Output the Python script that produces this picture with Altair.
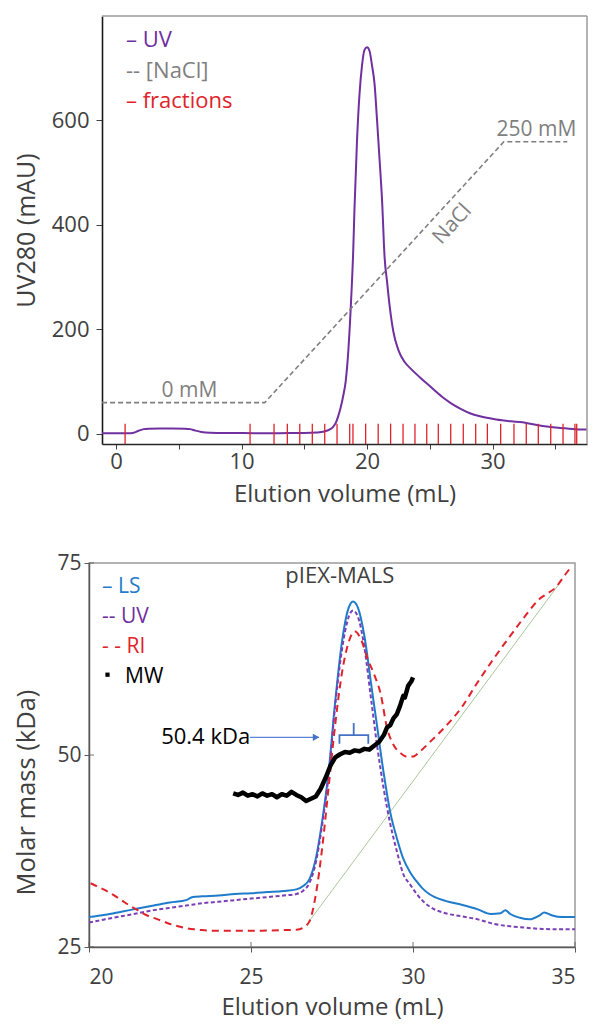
import altair as alt
import pandas as pd

FONT = "Open Sans"
PURPLE = "#7030A0"
GRAY = "#7F7F7F"
RED = "#E0232B"
BLUE = "#1F7CCB"
TXT = "#404040"
FRAME = "#9a9a9a"

# ---------------- top panel (ion exchange) ----------------
uv_vol = [-1.12, 0.0, 1.0, 1.4, 1.8, 2.2, 2.6, 3.5, 4.5, 5.5, 5.9, 6.3, 6.8, 7.5, 9.0,
          11.0, 13.0, 15.0, 16.0, 16.6, 17.0, 17.3, 17.5, 17.7, 17.9, 18.1, 18.3, 18.5,
          18.7, 18.9, 19.0, 19.2, 19.4, 19.6, 19.8, 20.0, 20.2, 20.4, 20.6, 20.8, 21.0,
          21.2, 21.4, 21.6, 21.8, 22.1, 22.5, 23.0, 23.5, 24.2, 25.0, 26.0, 26.7, 27.5,
          28.2, 29.0, 30.3, 31.5, 32.4, 33.1, 34.0, 35.0, 35.8, 37.0, 37.53]
uv_mau = [0.5, 0.5, 0.5, 1.5, 5.5, 8.5, 9.2, 9.5, 9.5, 9.2, 8.5, 5.8, 3.0, 1.5, 1.0,
          0.8, 0.8, 1.0, 2.0, 4.0, 7.5, 13, 20, 33, 50, 72, 100, 155,
          240, 350, 430, 560, 650, 705, 735, 740, 733, 705, 670, 600, 525,
          446, 338, 290, 245, 195, 160, 137, 124, 108, 91, 70, 58, 47,
          39, 33, 27, 23.5, 21.5, 18.5, 14.5, 11.5, 10, 8, 7.6]

nacl_vol = [-1.12, 11.85, 30.9, 35.96]
nacl_mm = [0, 0, 250, 250]

frac_vol = [0.72, 10.68, 12.59, 13.65, 14.64, 15.64, 16.63, 17.61, 18.62, 18.88, 19.89,
            20.89, 21.88, 22.87, 23.82, 24.76, 25.68, 26.67, 27.67, 28.66, 29.59, 30.65,
            31.71, 32.69, 33.65, 34.64, 35.62, 36.57, 36.71]

top_legend = ["\u2013 UV", "-- [NaCl]", "\u2013 fractions"]
top_legend_colors = [PURPLE, GRAY, RED]

# ---------------- bottom panel (MALS) ----------------
ls_vol = [20.0, 20.5, 21.0, 21.5, 22.0, 22.5, 23.0, 23.2, 23.5, 24.0, 24.5, 25.0, 25.5, 26.0,
          26.4, 26.6, 26.8, 27.0, 27.2, 27.4, 27.6, 27.8, 28.0, 28.15, 28.3, 28.5, 28.7,
          28.9, 29.1, 29.3, 29.5, 29.7, 29.9, 30.1, 30.3, 30.5, 31.0, 31.5, 32.0, 32.4,
          32.7, 32.85, 33.0, 33.3, 33.6, 33.9, 34.05, 34.3, 34.6, 35.0]
ls_kda = [28.9, 29.2, 29.6, 30.0, 30.4, 30.8, 31.1, 31.5, 31.6, 31.7, 31.9, 32.0, 32.15, 32.3,
          32.5, 32.9, 33.8, 36.5, 41.5, 48.0, 57.0, 64.5, 69.0, 70.0, 69.2, 65.5, 59.5,
          53.5, 47.5, 42.5, 39.2, 36.5, 34.8, 33.6, 32.6, 31.9, 31.0, 30.5, 29.9, 29.3,
          29.4, 29.8, 29.3, 28.8, 28.6, 29.1, 29.5, 29.1, 28.9, 28.9]

uvm_vol = [20.0, 20.5, 21.0, 21.5, 22.0, 22.5, 23.0, 23.5, 24.0, 24.5, 25.0, 25.5, 26.0, 26.4,
           26.6, 26.8, 27.0, 27.2, 27.4, 27.6, 27.8, 28.0, 28.15, 28.3, 28.5, 28.7, 28.9,
           29.1, 29.3, 29.5, 29.7, 29.9, 30.1, 30.3, 30.5, 31.0, 31.5, 32.0, 32.5, 33.0,
           33.5, 34.0, 34.5, 35.0]
uvm_kda = [28.2, 28.6, 29.0, 29.4, 29.8, 30.1, 30.4, 30.7, 30.9, 31.1, 31.3, 31.5, 31.7, 31.9,
           32.3, 33.3, 36.0, 41.0, 47.5, 56.5, 63.5, 67.8, 68.8, 68.0, 64.0, 57.5, 51.0,
           45.5, 41.0, 37.5, 34.5, 33.2, 32.0, 31.0, 30.3, 29.4, 29.0, 28.6, 28.0, 27.7,
           27.5, 27.35, 27.3, 27.3]

ri_vol = [20.05, 20.2, 20.5, 20.75, 21.0, 21.25, 21.5, 21.75, 22.0, 22.25, 22.5, 22.75, 23.0,
          23.25, 23.5, 24.0, 24.5, 25.0, 25.5, 26.0, 26.4, 26.6, 26.8, 27.0, 27.2, 27.4,
          27.6, 27.8, 28.0, 28.2, 28.4, 28.6, 28.8, 29.0, 29.2, 29.4, 29.6, 29.8, 30.0,
          30.2, 30.5, 31.0, 31.5, 32.0, 32.5, 33.0, 33.5, 33.9, 34.1, 34.4, 34.7, 34.9]
ri_kda = [33.3, 33.0, 32.4, 31.8, 31.1, 30.4, 29.8, 29.2, 28.8, 28.4, 28.0, 27.7, 27.45,
          27.3, 27.2, 27.1, 27.1, 27.1, 27.15, 27.2, 27.25, 27.5, 28.3, 31.8, 38.0, 46.0,
          54.0, 60.5, 64.5, 66.1, 65.0, 62.5, 60.5, 58.0, 53.5, 51.3, 50.3, 49.8, 49.8,
          50.4, 51.6, 53.7, 56.2, 59.5, 62.6, 65.5, 68.3, 70.3, 70.9, 71.8, 73.5, 74.6]

base_vol = [26.7, 34.55]
base_kda = [27.8, 72.5]

mw_vol = [24.45, 24.6, 24.75, 24.9, 25.05, 25.2, 25.35, 25.5, 25.65, 25.8, 25.95, 26.1, 26.25,
          26.4, 26.55, 26.7, 26.85, 27.0, 27.15, 27.3, 27.45, 27.6, 27.75, 27.9, 28.05, 28.2,
          28.35, 28.5, 28.65, 28.8, 28.95, 29.1, 29.2, 29.3, 29.4, 29.5, 29.6, 29.7, 29.75,
          29.85, 29.95, 30.0]
mw_kda = [45.0, 44.8, 45.1, 44.7, 44.9, 44.6, 45.0, 44.7, 44.9, 44.5, 44.9, 44.7, 45.2,
          44.8, 44.5, 44.0, 44.3, 44.6, 45.6, 47.0, 48.6, 49.7, 50.1, 50.4, 50.3, 50.6,
          50.5, 50.8, 50.7, 51.2, 51.7, 52.6, 53.6, 53.9, 54.8, 55.3, 56.4, 57.7, 57.5,
          59.0, 59.6, 60.1]

mw_label = "50.4 kDa"
mw_label_pos = [23.6, 52.3]
arrow_vol = [24.97, 27.1]
arrow_kda = 52.3
bracket_vol = [27.73, 27.73, 28.62, 28.62]
bracket_kda = [51.45, 52.6, 52.6, 51.45]
bracket_stem_vol = 28.17
bracket_stem_kda = [52.6, 54.16]

bot_legend = ["\u2013 LS", "-- UV", "- - RI", "MW"]
bot_legend_colors = [BLUE, PURPLE, RED, "#000000"]
bot_title = "pIEX-MALS"

# ---------------- geometry ----------------
SHIFT = 13            # top plot starts 13 px right of the bottom plot
W1, H1 = 485, 428
W2, H2 = 486, 384
XT_DOM = [-1.12, 37.53]
YT_DOM = [-20, 800]

XT = alt.Scale(domain=XT_DOM, range=[SHIFT, SHIFT + W1], nice=False, zero=False)
YT = alt.Scale(domain=YT_DOM, nice=False, zero=False)
YN = alt.Scale(domain=[-39.7, 370.6], nice=False, zero=False)
XB = alt.Scale(domain=[20, 35], nice=False, zero=False)
YB = alt.Scale(domain=[25, 75], nice=False, zero=False)

# ---------------- top chart ----------------
df_uv = pd.DataFrame({"vol": uv_vol, "v": uv_mau})
df_nacl = pd.DataFrame({"vol": nacl_vol, "mm": nacl_mm})
df_frac = pd.DataFrame({"vol": frac_vol})

x_top = alt.X("vol:Q", scale=XT, title="Elution volume (mL)",
              axis=alt.Axis(values=[0, 5, 10, 15, 20, 25, 30, 35],
                            labelExpr="datum.value % 10 === 0 ? datum.label : ''",
                            tickSize=5, labelPadding=2, titlePadding=10,
                            domainColor="#262626", domainWidth=1.5, tickColor="#404040"))

uv_line = alt.Chart(df_uv).mark_line(color=PURPLE, strokeWidth=2, interpolate="monotone").encode(
    x=x_top,
    y=alt.Y("v:Q", scale=YT, title="UV280 (mAU)",
            axis=alt.Axis(values=[0, 200, 400, 600], tickSize=6, labelPadding=7, offset=-SHIFT,
                          labelFontSize=22, titleFontSize=25, titleX=-63, titleY=214,
                          domainColor="#1a1a1a", domainWidth=1.6, tickColor="#404040")))

frac_rule = alt.Chart(df_frac).mark_rule(color=RED, strokeWidth=1.3).encode(
    x=alt.X("vol:Q", scale=XT), y=alt.datum(-20), y2=alt.datum(19))

frame_top = alt.Chart(pd.DataFrame({"a": [XT_DOM[0]], "b": [XT_DOM[1]], "y": [YT_DOM[1]]})).mark_rule(
    color=FRAME, strokeWidth=1.5).encode(x=alt.X("a:Q", scale=XT), x2="b:Q", y=alt.Y("y:Q", scale=YT))
frame_right = alt.Chart(pd.DataFrame({"x": [XT_DOM[1]], "a": [YT_DOM[0]], "b": [YT_DOM[1]]})).mark_rule(
    color=FRAME, strokeWidth=1.5).encode(x=alt.X("x:Q", scale=XT), y=alt.Y("a:Q", scale=YT), y2="b:Q")

legend_layers = []
for i, (t, c) in enumerate(zip(top_legend, top_legend_colors)):
    legend_layers.append(
        alt.Chart(pd.DataFrame({"t": [t]})).mark_text(
            align="left", baseline="alphabetic", font=FONT, fontSize=22, color=c
        ).encode(x=alt.value(SHIFT + 24), y=alt.value(31 + 30.5 * i), text="t:N"))

main_top = alt.layer(uv_line, frac_rule, frame_top, frame_right, *legend_layers)

nacl_line = alt.Chart(df_nacl).mark_line(color=GRAY, strokeDash=[5, 3], strokeWidth=1.6).encode(
    x=alt.X("vol:Q", scale=XT), y=alt.Y("mm:Q", scale=YN, axis=None))

nacl_lab_df = pd.DataFrame({"vol": [5.85, 33.5], "mm": [0, 250], "t": ["0 mM", "250 mM"]})
nacl_labels = alt.Chart(nacl_lab_df).mark_text(
    baseline="bottom", dy=-2, font=FONT, fontSize=21, color=GRAY).encode(
    x=alt.X("vol:Q", scale=XT), y=alt.Y("mm:Q", scale=YN, axis=None), text="t:N")

nacl_name = alt.Chart(pd.DataFrame({"vol": [26.8], "mm": [171], "t": ["NaCl"]})).mark_text(
    angle=312.5, baseline="middle", font=FONT, fontSize=21, color=GRAY).encode(
    x=alt.X("vol:Q", scale=XT), y=alt.Y("mm:Q", scale=YN, axis=None), text="t:N")

nacl_layer = alt.layer(nacl_line, nacl_labels, nacl_name)

top = alt.layer(main_top, nacl_layer).resolve_scale(y="independent").properties(
    width=SHIFT + W1, height=H1, view=alt.ViewBackground(stroke="transparent"))

# ---------------- bottom chart ----------------
df_ls = pd.DataFrame({"vol": ls_vol, "v": ls_kda})
df_uvm = pd.DataFrame({"vol": uvm_vol, "v": uvm_kda})
df_ri = pd.DataFrame({"vol": ri_vol, "v": ri_kda})
df_base = pd.DataFrame({"vol": base_vol, "v": base_kda})
df_mw = pd.DataFrame({"vol": mw_vol, "v": mw_kda})

x_bot = alt.X("vol:Q", scale=XB, title="Elution volume (mL)",
              axis=alt.Axis(values=[20, 25, 30, 35], tickSize=5, labelPadding=14,
                            labelFontSize=21, titlePadding=8,
                            domainColor="#595959", domainWidth=1.5, tickColor="#595959"))
y_bot = alt.Y("v:Q", scale=YB, title="Molar mass (kDa)",
              axis=alt.Axis(values=[25, 50, 75], tickSize=5, labelPadding=3,
                            labelFontSize=21, titleFontSize=25.5, titleX=-50, titleY=229,
                            domainColor="#595959", domainWidth=1.5, tickColor="#595959"))

base_line = alt.Chart(df_base).mark_line(color="#A9C79B", strokeWidth=1).encode(x=x_bot, y=y_bot)
ls_line = alt.Chart(df_ls).mark_line(color=BLUE, strokeWidth=2, interpolate="monotone").encode(
    x=alt.X("vol:Q", scale=XB), y=alt.Y("v:Q", scale=YB))
uvm_line = alt.Chart(df_uvm).mark_line(color="#7B3FB5", strokeWidth=2, strokeDash=[4, 2.5],
                                       interpolate="monotone").encode(
    x=alt.X("vol:Q", scale=XB), y=alt.Y("v:Q", scale=YB))
ri_line = alt.Chart(df_ri).mark_line(color=RED, strokeWidth=2, strokeDash=[7, 5],
                                     interpolate="monotone").encode(
    x=alt.X("vol:Q", scale=XB), y=alt.Y("v:Q", scale=YB))
mw_line = alt.Chart(df_mw).mark_line(color="#000000", strokeWidth=4.5, strokeJoin="round").encode(
    x=alt.X("vol:Q", scale=XB), y=alt.Y("v:Q", scale=YB))

ann_text = alt.Chart(pd.DataFrame({"vol": [mw_label_pos[0]], "v": [mw_label_pos[1]], "t": [mw_label]})).mark_text(
    baseline="middle", font=FONT, fontSize=22, color="#000000").encode(
    x=alt.X("vol:Q", scale=XB), y=alt.Y("v:Q", scale=YB), text="t:N")
arrow = alt.Chart(pd.DataFrame({"a": [arrow_vol[0]], "b": [arrow_vol[1]], "v": [arrow_kda]})).mark_rule(
    color="#5B86D6", strokeWidth=1.2).encode(
    x=alt.X("a:Q", scale=XB), x2="b:Q", y=alt.Y("v:Q", scale=YB))
arrow_head = alt.Chart(pd.DataFrame({"vol": [arrow_vol[1]], "v": [arrow_kda]})).mark_point(
    shape="triangle-right", filled=True, size=55, color="#4472C4", opacity=1, xOffset=-3).encode(
    x=alt.X("vol:Q", scale=XB), y=alt.Y("v:Q", scale=YB))
bracket = alt.Chart(pd.DataFrame({"vol": bracket_vol, "v": bracket_kda, "o": [0, 1, 2, 3]})).mark_line(
    color="#4472C4", strokeWidth=1.8).encode(
    x=alt.X("vol:Q", scale=XB), y=alt.Y("v:Q", scale=YB), order="o:Q")
bracket_stem = alt.Chart(pd.DataFrame({"vol": [bracket_stem_vol], "a": [bracket_stem_kda[0]], "b": [bracket_stem_kda[1]]})).mark_rule(
    color="#4472C4", strokeWidth=1.8).encode(
    x=alt.X("vol:Q", scale=XB), y=alt.Y("a:Q", scale=YB), y2="b:Q")

title_mark = alt.Chart(pd.DataFrame({"vol": [27.74], "v": [73.3], "t": [bot_title]})).mark_text(
    baseline="middle", font=FONT, fontSize=22, color=TXT).encode(
    x=alt.X("vol:Q", scale=XB), y=alt.Y("v:Q", scale=YB), text="t:N")

ytick_in = alt.Chart(pd.DataFrame({"v": [25, 50, 75]})).mark_tick(
    orient="horizontal", size=5, thickness=1.2, xOffset=2.5, color="#595959").encode(
    x=alt.datum(20), y=alt.Y("v:Q", scale=YB))
xtick_in = alt.Chart(pd.DataFrame({"vol": [20, 25, 30, 35]})).mark_tick(
    orient="vertical", size=5, thickness=1.2, yOffset=-2.5, color="#595959").encode(
    x=alt.X("vol:Q", scale=XB), y=alt.datum(25))

bot_leg_layers = []
for i, (t, c) in enumerate(zip(bot_legend, bot_legend_colors)):
    bot_leg_layers.append(
        alt.Chart(pd.DataFrame({"t": [t]})).mark_text(
            align="left", baseline="alphabetic", font=FONT, fontSize=21, color=c
        ).encode(x=alt.value(13 if i < 3 else 36), y=alt.value(29.5 + 30 * i), text="t:N"))
mw_marker = alt.Chart(pd.DataFrame({"t": ["MW"]})).mark_square(
    size=18, color="#000000", opacity=1).encode(x=alt.value(18.5), y=alt.value(111.7))

bottom = alt.layer(base_line, ls_line, uvm_line, ri_line, mw_line, ann_text, arrow, arrow_head,
                   bracket, bracket_stem, title_mark, ytick_in, xtick_in, mw_marker, *bot_leg_layers
                   ).properties(width=W2, height=H2)

chart = alt.vconcat(top, bottom, spacing=44).properties(
    padding={"left": 5, "top": 6, "right": 0, "bottom": 0}
).configure_view(
    stroke=FRAME, strokeWidth=1.5
).configure_axis(
    grid=False, labelFont=FONT, labelFontSize=22, labelColor=TXT,
    titleFont=FONT, titleFontSize=24, titleColor=TXT, titleFontWeight="normal"
).configure_text(font=FONT)

chart.save("out.html", embed_options={"renderer": "svg", "actions": False})
